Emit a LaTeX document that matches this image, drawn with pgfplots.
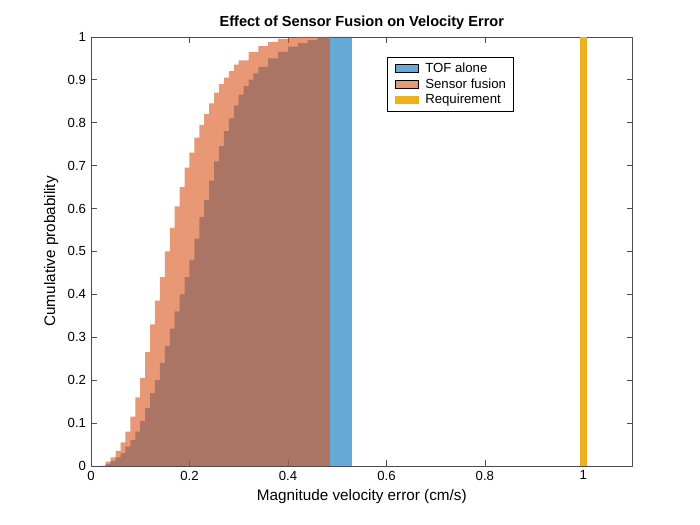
\documentclass[border=0pt]{standalone}
\usepackage{pgfplots}
\pgfplotsset{compat=1.18}
\usepackage{fontspec}
\setmainfont{Liberation Sans}
\definecolor{mblue}{rgb}{0,0.447,0.741}
\definecolor{morange}{rgb}{0.85,0.325,0.098}
\definecolor{myellow}{rgb}{0.929,0.694,0.125}
\begin{document}
\begin{tikzpicture}
\useasboundingbox (-65.5pt,-42.5pt) rectangle (438.5pt,335.5pt);
\begin{axis}[scale only axis, width=390pt, height=309pt,
 xmin=0, xmax=1.1, ymin=0, ymax=1,
 xtick={0,0.2,0.4,0.6,0.8,1}, ytick={0,0.1,...,1},
 yticklabel style={/pgf/number format/fixed},
 /pgf/number format/assume math mode=true,
 tick align=inside, tick pos=both,
 ticklabel style={font=\fontsize{9.5}{11}\selectfont},
 xlabel={Magnitude velocity error (cm/s)}, ylabel={Cumulative probability},
 label style={font=\fontsize{11}{13}\selectfont},
 title={\textbf{Effect of Sensor Fusion on Velocity Error}},
 title style={font=\fontsize{10.5}{12}\selectfont, yshift=-4pt},
 legend style={at={(0.546,0.953)}, anchor=north west, font=\fontsize{9.5}{11}\selectfont, draw=black, row sep=-1pt},
 legend cell align=left,
 axis line style={gray!60!black}, every tick/.style={gray!60!black},
]
\addplot[const plot, draw=none, fill=mblue, fill opacity=0.6, area legend] coordinates {
(0.02,0)(0.03,0.005)(0.04,0.012)(0.05,0.02)(0.06,0.03)(0.07,0.045)(0.08,0.06)(0.09,0.08)(0.10,0.105)(0.11,0.135)(0.12,0.17)(0.13,0.2)(0.14,0.24)(0.15,0.28)(0.16,0.32)(0.17,0.36)(0.18,0.4)(0.19,0.44)(0.20,0.48)(0.21,0.53)(0.22,0.58)(0.23,0.62)(0.24,0.665)(0.25,0.71)(0.26,0.745)(0.27,0.78)(0.28,0.81)(0.29,0.84)(0.30,0.865)(0.31,0.885)(0.32,0.9)(0.33,0.915)(0.34,0.93)(0.36,0.95)(0.38,0.965)(0.40,0.977)(0.42,0.985)(0.44,0.992)(0.46,0.997)(0.48,1.0)(0.53,1)(0.53,0)} \closedcycle;
\addlegendentry{TOF alone}
\addplot[const plot, draw=none, fill=morange, fill opacity=0.6, area legend] coordinates {
(0.015,0)(0.03,0.01)(0.04,0.02)(0.05,0.035)(0.06,0.055)(0.07,0.08)(0.08,0.115)(0.09,0.16)(0.10,0.205)(0.11,0.265)(0.12,0.33)(0.13,0.385)(0.14,0.44)(0.15,0.5)(0.16,0.555)(0.17,0.605)(0.18,0.65)(0.19,0.695)(0.20,0.73)(0.21,0.765)(0.22,0.795)(0.23,0.82)(0.24,0.845)(0.25,0.87)(0.26,0.89)(0.27,0.905)(0.28,0.92)(0.29,0.935)(0.30,0.945)(0.32,0.965)(0.34,0.978)(0.36,0.988)(0.38,0.995)(0.40,0.998)(0.42,1.0)(0.485,1)(0.485,0)} \closedcycle;
\addlegendentry{Sensor fusion}
\addplot[myellow, line width=5.5pt] coordinates {(1,0)(1,1)};
\addlegendentry{Requirement}
\end{axis}
\end{tikzpicture}
\end{document}
